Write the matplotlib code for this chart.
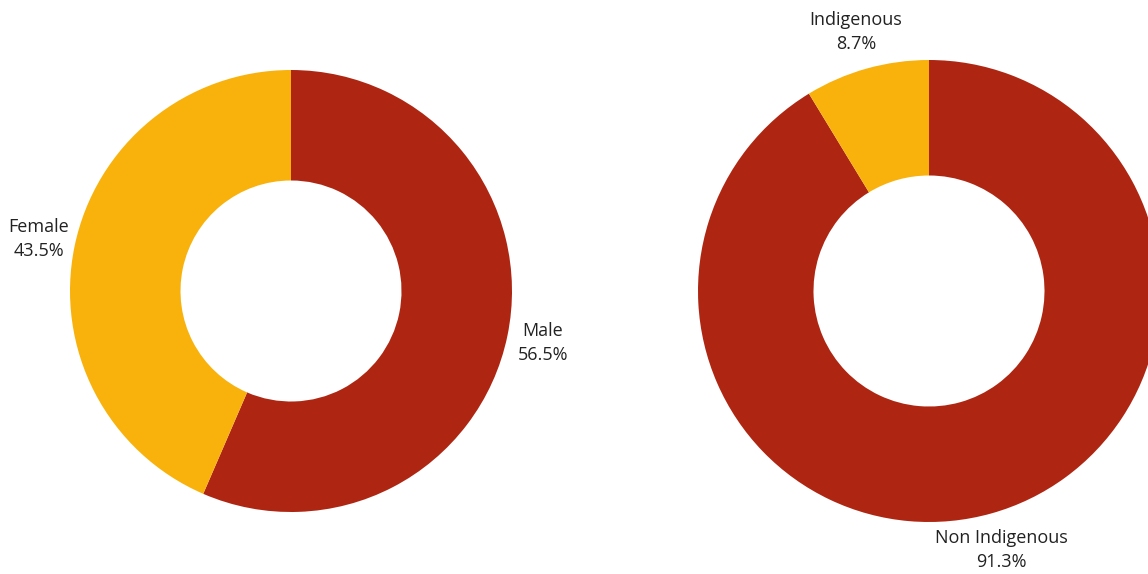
import numpy as np
import matplotlib.pyplot as plt

RED = '#AE2612'
YELLOW = '#F9B20C'

gender_labels = ['Male', 'Female']
gender_values = [56.5, 43.5]

indig_labels = ['Non Indigenous', 'Indigenous']
indig_values = [91.3, 8.7]

W, H = 1148, 574
fig = plt.figure(figsize=(W / 100, H / 100), dpi=100)


def donut(cx, cy, r, labels, values, label_pos=None):
    # axes placed so that radius 1 == r pixels, centred on (cx, cy) from top-left
    ax = fig.add_axes([(cx - r) / W, (H - cy - r) / H, 2 * r / W, 2 * r / H])
    wedges, _ = ax.pie(values, colors=[RED, YELLOW], startangle=90, counterclock=False,
                       wedgeprops=dict(width=0.5, linewidth=0))
    ax.set_xlim(-1, 1)
    ax.set_ylim(-1, 1)
    ax.set_aspect('equal')
    ax.axis('off')
    for i, (w, lab, v) in enumerate(zip(wedges, labels, values)):
        ang = np.deg2rad((w.theta1 + w.theta2) / 2)
        x, y = 1.165 * np.cos(ang), 1.165 * np.sin(ang)
        if label_pos and i in label_pos:
            x, y = label_pos[i]
        ax.text(x, y, '{}\n{:.1f}%'.format(lab, v), ha='center', va='center',
                fontsize=13, color='#222222', family='Open Sans', linespacing=1.45,
                clip_on=False)
    return ax


donut(291, 291, 221, gender_labels, gender_values)
donut(929, 291, 231, indig_labels, indig_values, label_pos={1: (-0.316, 1.12)})

fig.savefig('out.png', dpi=100)
